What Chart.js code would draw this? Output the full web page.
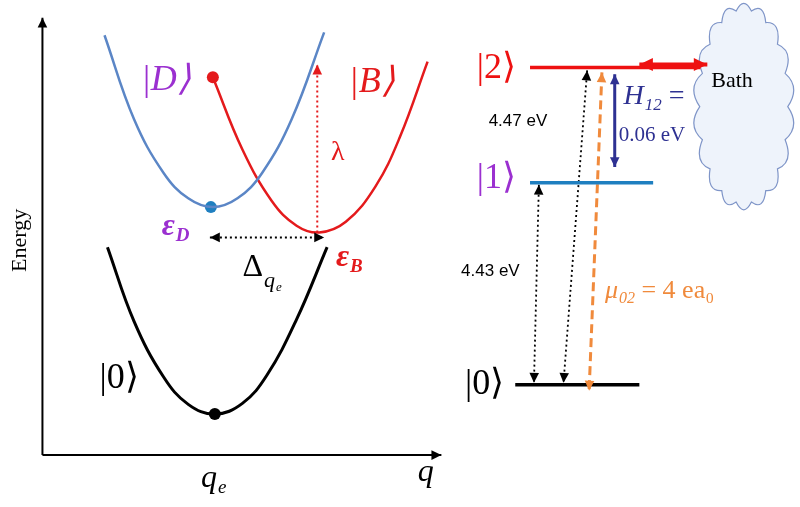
<!DOCTYPE html>
<html><head><meta charset="utf-8">
<script src="https://cdn.jsdelivr.net/npm/chart.js@4"></script>
<style>html,body{margin:0;padding:0;background:#fff}</style>
</head><body>
<canvas id="c" width="800" height="507"></canvas>
<script>
// curve samples (page pixel coords, y downwards)
const groundX = [103, 130, 160, 185, 212, 240, 265, 295, 326];
const groundY = [247, 323, 380, 408, 418, 407, 378, 321, 247];
const darkX = [100, 130, 160, 185, 210, 235, 260, 290, 323];
const darkY = [30, 116, 171, 197, 206, 197, 171, 116, 27];
const brightX = [210, 240, 270, 295, 318, 345, 375, 400, 428];
const brightY = [73, 147, 200, 225, 232, 221, 185, 134, 57];
// energy level lines  [x0, x1, y]
const levelNames = ['2', '1', '0'];
const levelSpan = [[532, 705, 63], [532, 657, 181], [517, 643, 388]];

const pts = (xs, ys) => xs.map((x, i) => ({ x, y: ys[i] }));
const seg = (a, b) => [{ x: a[0], y: a[1] }, { x: b[0], y: b[1] }];
const line = (data, color, extra) => Object.assign({
    data, showLine: true, borderColor: color, borderWidth: 2.5, pointRadius: 0, fill: false
}, extra || {});

const datasets = [
    line(seg([37, 460], [37, 12]), '#000', { borderWidth: 2, arrow: 'end' }),
    line(seg([37, 460], [442, 460]), '#000', { borderWidth: 2, arrow: 'end' }),
    line(pts(groundX, groundY), '#000', { tension: 0.4, borderWidth: 3 }),
    line(pts(darkX, darkY), '#5b86c6', { tension: 0.4 }),
    line(pts(brightX, brightY), '#e41a1c', { tension: 0.4 }),
    line(seg([316, 232], [316, 60]), '#e41a1c', { borderWidth: 2, borderDash: [2, 3], arrow: 'end' }),
    line(seg([207, 237], [323, 237]), '#000', { borderWidth: 2, borderDash: [2, 3], arrow: 'both' }),
    line(seg([levelSpan[0][0], levelSpan[0][2]], [levelSpan[0][1], levelSpan[0][2]]), '#ee1111', { borderWidth: 3.5 }),
    line(seg([levelSpan[1][0], levelSpan[1][2]], [levelSpan[1][1], levelSpan[1][2]]), '#1f7fc0', { borderWidth: 3.5 }),
    line(seg([levelSpan[2][0], levelSpan[2][2]], [levelSpan[2][1], levelSpan[2][2]]), '#000', { borderWidth: 3.5 }),
    line(seg([541, 183], [536, 386]), '#000', { borderWidth: 1.8, borderDash: [2, 3], arrow: 'both' }),
    line(seg([590, 66], [566, 386]), '#000', { borderWidth: 1.8, borderDash: [2, 3], arrow: 'both' }),
    line(seg([605, 68], [592, 394]), '#f08a3c', { borderWidth: 3, borderDash: [9, 5], arrow: 'both' }),
    line(seg([618, 70], [618, 165]), '#2e3192', { borderWidth: 3, arrow: 'both' }),
    line(seg([643, 60], [712, 60]), '#ee1111', { borderWidth: 4, arrow: 'both', head: 15 }),
    { data: pts([210, 208, 212], [73, 206, 418]), pointRadius: 6,
      pointBackgroundColor: ['#e41a1c', '#1f7fc0', '#000'], pointBorderWidth: 0, showLine: false }
];

const serif = '"Liberation Serif"';
const labels = [
    { t: 'Energy', x: 14, y: 240, f: '22px ' + serif, c: '#000', rot: true },
    { t: 'q', x: 418, y: 478, f: 'italic 32px ' + serif, c: '#000' },
    { t: 'q', sub: 'e', x: 198, y: 484, f: 'italic 32px ' + serif, c: '#000' },
    { t: '|D⟩', x: 137, y: 76, f: 'italic 36px ' + serif, c: '#9b30d0' },
    { t: '|B⟩', x: 348, y: 78, f: 'italic 36px ' + serif, c: '#e41a1c' },
    { t: '|0⟩', x: 95, y: 382, f: '36px ' + serif, c: '#000' },
    { t: 'λ', x: 330, y: 150, f: '28px ' + serif, c: '#e41a1c' },
    { t: 'ε', sub: 'D', x: 158, y: 226, f: 'bold italic 32px ' + serif, c: '#9b30d0' },
    { t: 'ε', sub: 'B', x: 335, y: 258, f: 'bold italic 32px ' + serif, c: '#e41a1c' },
    { t: 'Δ', x: 240, y: 268, f: '32px ' + serif, c: '#000' },
    { t: 'q', sub: 'e', x: 262, y: 282, f: 'italic 22px ' + serif, c: '#000' },
    { t: '|' + levelNames[0] + '⟩', x: 478, y: 64, f: '36px ' + serif, c: '#ee1111' },
    { t: '|' + levelNames[1] + '⟩', x: 478, y: 177, f: '36px ' + serif, c: '#9b30d0' },
    { t: '|' + levelNames[2] + '⟩', x: 466, y: 388, f: '36px ' + serif, c: '#000' },
    { t: '4.47 eV', x: 490, y: 118, f: '17px "Liberation Sans"', c: '#000' },
    { t: '4.43 eV', x: 462, y: 272, f: '17px "Liberation Sans"', c: '#000' },
    { t: 'H', sub: '12', tail: ' =', x: 627, y: 93, f: 'italic 28px ' + serif, c: '#2e3192' },
    { t: '0.06 eV', x: 622, y: 133, f: '21px ' + serif, c: '#2e3192' },
    { t: 'μ', sub: '02', tail: ' = 4 ea₀', x: 608, y: 292, f: 'italic 26px ' + serif, c: '#f08a3c' },
    { t: 'Bath', x: 716, y: 77, f: '22px ' + serif, c: '#000' }
];

const extras = {
    id: 'extras',
    beforeDatasetsDraw(chart) {
        const { ctx, scales: { x, y } } = chart;
        // cloud (bumpy ellipse)
        const cx = x.getPixelForValue(749), cy = y.getPixelForValue(103), rx = 44, ry = 97, n = 18;
        ctx.save();
        ctx.fillStyle = '#eef3fb'; ctx.strokeStyle = '#7f95c8'; ctx.lineWidth = 1.2;
        ctx.beginPath();
        for (let i = 0; i <= n; i++) {
            const a = i / n * Math.PI * 2, px = cx + rx * Math.cos(a), py = cy + ry * Math.sin(a);
            if (i === 0) { ctx.moveTo(px, py); continue; }
            const m = (i - 0.5) / n * Math.PI * 2;
            ctx.quadraticCurveTo(cx + (rx + 14) * Math.cos(m), cy + (ry + 14) * Math.sin(m), px, py);
        }
        ctx.closePath(); ctx.fill(); ctx.stroke();
        ctx.restore();
    },
    afterDatasetsDraw(chart) {
        const { ctx, scales: { x, y } } = chart;
        ctx.save();
        chart.data.datasets.forEach(ds => {
            if (!ds.arrow) return;
            const p = ds.data.map(d => [x.getPixelForValue(d.x), y.getPixelForValue(d.y)]);
            const head = (a, b) => {
                const ang = Math.atan2(b[1] - a[1], b[0] - a[0]), L = ds.head || 11, W = 0.45;
                ctx.fillStyle = ds.borderColor; ctx.beginPath();
                ctx.moveTo(b[0], b[1]);
                ctx.lineTo(b[0] - L * Math.cos(ang - W), b[1] - L * Math.sin(ang - W));
                ctx.lineTo(b[0] - L * Math.cos(ang + W), b[1] - L * Math.sin(ang + W));
                ctx.closePath(); ctx.fill();
            };
            head(p[p.length - 2], p[p.length - 1]);
            if (ds.arrow === 'both') head(p[1], p[0]);
        });
        ctx.textBaseline = 'middle';
        labels.forEach(l => {
            const px = x.getPixelForValue(l.x), py = y.getPixelForValue(l.y);
            ctx.fillStyle = l.c; ctx.font = l.f;
            if (l.rot) { ctx.save(); ctx.translate(px, py); ctx.rotate(-Math.PI / 2); ctx.textAlign = 'center'; ctx.fillText(l.t, 0, 0); ctx.restore(); return; }
            ctx.textAlign = 'left';
            ctx.fillText(l.t, px, py);
            let w = ctx.measureText(l.t).width;
            if (l.sub) {
                const size = parseInt(l.f.match(/(\d+)px/)[1]);
                ctx.font = l.f.replace(/\d+px/, Math.round(size * 0.6) + 'px');
                ctx.fillText(l.sub, px + w + 1, py + size * 0.3);
                w += ctx.measureText(l.sub).width + 1;
                ctx.font = l.f.replace('italic ', '');
                if (l.tail) ctx.fillText(l.tail, px + w, py);
            }
        });
        ctx.restore();
    }
};

new Chart(document.getElementById('c'), {
    type: 'scatter',
    data: { datasets },
    options: {
        responsive: false, animation: false,
        layout: { padding: 0 },
        plugins: { legend: { display: false }, tooltip: { enabled: false } },
        scales: {
            x: { type: 'linear', min: 0, max: 800, display: false },
            y: { type: 'linear', min: 0, max: 507, reverse: true, display: false }
        }
    },
    plugins: [extras]
});
</script>
</body></html>
